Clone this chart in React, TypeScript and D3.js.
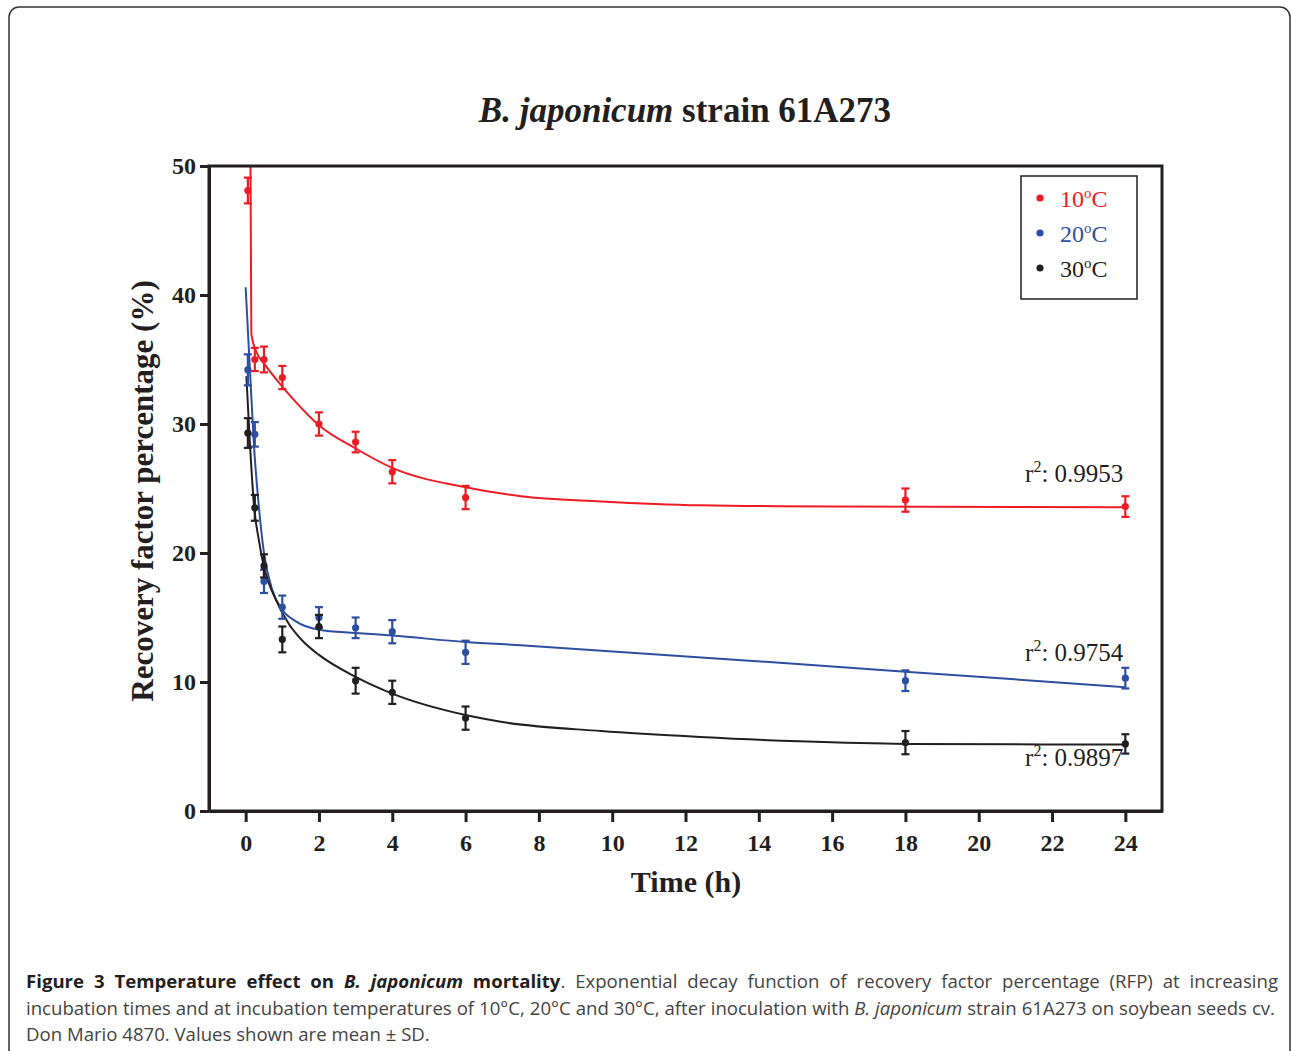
import React, { useEffect, useRef } from 'react';
import * as d3 from 'd3';

// sampling times (h) and measured recovery factor percentage (mean, SD)
const hours = [0.06, 0.25, 0.5, 1, 2, 3, 4, 6, 18, 24];
const rfp10 = [48.1, 35.0, 35.0, 33.6, 30.0, 28.6, 26.3, 24.3, 24.1, 23.6];
const sd10 = [1.0, 0.9, 1.0, 0.9, 0.9, 0.8, 0.9, 0.9, 0.9, 0.8];
const rfp20 = [34.2, 29.2, 17.8, 15.8, 15.0, 14.2, 13.9, 12.3, 10.1, 10.3];
const sd20 = [1.2, 0.95, 0.9, 0.9, 0.8, 0.8, 0.9, 0.9, 0.8, 0.8];
const rfp30 = [29.3, 23.5, 19.0, 13.3, 14.3, 10.1, 9.2, 7.2, 5.3, 5.2];
const sd30 = [1.15, 1.0, 0.9, 1.0, 0.9, 1.0, 0.9, 0.9, 0.9, 0.75];

// fitted decay curves as [h, %]
const fit10 = [[0.13, 51], [0.155, 37.0], [0.29, 35.6], [0.5, 34.7], [1, 32.9], [1.37, 31.7], [2, 29.9], [3, 28.1], [4, 26.6], [6, 25.1], [7.5, 24.4], [9.7, 24.0], [12.4, 23.7], [16, 23.6], [24, 23.55]];
const fit20 = [[0, 40.6], [0.12, 34.0], [0.23, 28.2], [0.36, 23.6], [0.5, 20.0], [0.73, 17.1], [1, 15.6], [1.37, 14.7], [2, 14.05], [3, 13.8], [4, 13.6], [6, 13.1], [7.5, 12.85], [18, 10.8], [24, 9.6]];
const fit30 = [[0.02, 33.7], [0.12, 28.3], [0.23, 23.6], [0.36, 21.0], [0.5, 18.9], [0.82, 16.4], [1.18, 14.5], [1.55, 13.2], [2, 12.1], [3, 10.4], [4, 9.1], [6, 7.44], [7, 6.9], [9.7, 6.2], [12.4, 5.74], [15.1, 5.4], [18, 5.2], [24, 5.15]];

const temps = ['10', '20', '30'];
const r2Labels = ['0.9953', '0.9754', '0.9897'];
const xTicks = [0, 2, 4, 6, 8, 10, 12, 14, 16, 18, 20, 22, 24];
const yTicks = [0, 10, 20, 30, 40, 50];

const colors = ['#ed1c24', '#2d4fa1', '#231f20'];
const ink = '#231f20';
const serif = '"Liberation Serif", "Times New Roman", serif';
const sans = '"Open Sans", "Noto Sans", sans-serif';

const x = d3.scaleLinear().domain([-1, 25]).range([209, 1162]);
const y = d3.scaleLinear().domain([0, 50]).range([811, 166]);

const series = [
  { means: rfp10, sds: sd10, fit: fit10, r2y: 25.5 },
  { means: rfp20, sds: sd20, fit: fit20, r2y: 11.6 },
  { means: rfp30, sds: sd30, fit: fit30, r2y: 3.5 },
].map((s, i) => ({ ...s, temp: temps[i], color: colors[i], r2: r2Labels[i] }));

const fitLine = d3
  .line()
  .curve(d3.curveMonotoneX)
  .x(d => x(d[0]))
  .y(d => y(d[1]));

function App() {
  const svgRef = useRef(null);
  const xAxisRef = useRef(null);
  const yAxisRef = useRef(null);

  useEffect(() => {
    // axes
    const gy = d3.select(yAxisRef.current);
    gy.selectAll('*').remove();
    gy.call(d3.axisLeft(y).tickValues(yTicks).tickSize(9).tickSizeOuter(0).tickPadding(4));
    const gx = d3.select(xAxisRef.current);
    gx.selectAll('*').remove();
    gx.call(d3.axisBottom(x).tickValues(xTicks).tickSize(11).tickSizeOuter(0).tickPadding(12));
    [gx, gy].forEach(g => {
      g.attr('font-family', serif).attr('font-size', 24).attr('font-weight', 'bold');
      g.selectAll('line').attr('stroke', ink).attr('stroke-width', 3);
      g.selectAll('path').attr('stroke', ink).attr('stroke-width', 3);
      g.selectAll('text').attr('fill', ink);
    });

    // justify the caption lines like the printed figure
    d3.select(svgRef.current)
      .selectAll('text.justify')
      .each(function () {
        const el = this as SVGTextElement;
        el.setAttribute('word-spacing', '0');
        const len = el.getComputedTextLength();
        const spaces = (el.textContent.match(/ /g) || []).length;
        const target = +el.getAttribute('data-width');
        if (spaces > 0) el.setAttribute('word-spacing', String((target - len) / spaces));
      });
  }, []);

  return (
    <div>
      <svg ref={svgRef} width={1292} height={1051} style={{ position: 'absolute', left: 0, top: 0, background: '#fff' }}>
        <rect x={9} y={7} width={1281} height={1100} rx={10} fill="#fff" stroke="#333" strokeWidth={1.5} />

        {/* title */}
        <text x={685} y={122} textAnchor="middle" fontFamily={serif} fontSize={35} fontWeight="bold" fill={ink}>
          <tspan fontStyle="italic">B. japonicum</tspan>
          <tspan>{'  strain 61A273'}</tspan>
        </text>

        <defs>
          <clipPath id="plotClip">
            <rect x={209} y={166} width={953} height={645} />
          </clipPath>
        </defs>

        {/* fitted curves */}
        <g clipPath="url(#plotClip)">
          {series.map(s => (
            <path key={s.temp} d={fitLine(s.fit)} fill="none" stroke={s.color} strokeWidth={2} />
          ))}
        </g>

        {/* means with SD bars */}
        {series.map(s => (
          <g key={s.temp} stroke={s.color} fill={s.color} strokeWidth={2.2}>
            {hours.map((h, i) => {
              const cx = x(h);
              const hi = y(s.means[i] + s.sds[i]);
              const lo = y(s.means[i] - s.sds[i]);
              return (
                <g key={i}>
                  <line x1={cx} x2={cx} y1={hi} y2={lo} />
                  <line x1={cx - 4} x2={cx + 4} y1={hi} y2={hi} />
                  <line x1={cx - 4} x2={cx + 4} y1={lo} y2={lo} />
                  <circle cx={cx} cy={y(s.means[i])} r={3.6} stroke="none" />
                </g>
              );
            })}
          </g>
        ))}

        {/* r2 annotations */}
        {series.map(s => (
          <text key={s.temp} x={x(24) - 2} y={y(s.r2y)} textAnchor="end" fontFamily={serif} fontSize={25} fill={ink}>
            <tspan>r</tspan>
            <tspan fontSize={16} dy={-10}>2</tspan>
            <tspan dy={10}>{': ' + s.r2}</tspan>
          </text>
        ))}

        {/* plot frame and axes */}
        <rect x={209} y={166} width={953} height={645} fill="none" stroke={ink} strokeWidth={3} />
        <g ref={yAxisRef} transform="translate(209,0)" />
        <g ref={xAxisRef} transform="translate(0,811)" />

        <text transform="translate(153,491) rotate(-90)" textAnchor="middle" fontFamily={serif} fontSize={31} fontWeight="bold" fill={ink}>
          Recovery factor percentage (%)
        </text>
        <text x={686} y={892} textAnchor="middle" fontFamily={serif} fontSize={30} fontWeight="bold" fill={ink}>
          Time (h)
        </text>

        {/* legend */}
        <rect x={1021} y={176} width={116} height={123} fill="#fff" stroke={ink} strokeWidth={1.5} />
        {series.map((s, i) => (
          <g key={s.temp} transform={`translate(1040,${198 + i * 35})`}>
            <circle r={3.6} fill={s.color} />
            <text x={20} y={9} fontFamily={serif} fontSize={24} fill={s.color}>
              <tspan>{s.temp}</tspan>
              <tspan fontSize={15} dy={-9}>o</tspan>
              <tspan dy={9}>C</tspan>
            </text>
          </g>
        ))}

        {/* caption */}
        <g fontFamily={sans} fontSize={18.6} fill="#444">
          <text className="justify" data-width={1252} x={26} y={988}>
            <tspan fontWeight="bold" fill={ink}>{'Figure 3 Temperature effect on '}</tspan>
            <tspan fontWeight="bold" fontStyle="italic" fill={ink}>{'B. japonicum'}</tspan>
            <tspan fontWeight="bold" fill={ink}>{' mortality'}</tspan>
            <tspan>{'. Exponential decay function of recovery factor percentage (RFP) at increasing'}</tspan>
          </text>
          <text className="justify" data-width={1249} x={26} y={1015}>
            <tspan>{'incubation times and at incubation temperatures of 10\u00b0C, 20\u00b0C and 30\u00b0C, after inoculation with '}</tspan>
            <tspan fontStyle="italic">{'B. japonicum'}</tspan>
            <tspan>{' strain 61A273 on soybean seeds cv.'}</tspan>
          </text>
          <text x={26} y={1041}>
            {'Don Mario 4870. Values shown are mean \u00b1 SD.'}
          </text>
        </g>
      </svg>
    </div>
  );
}

export default App;
